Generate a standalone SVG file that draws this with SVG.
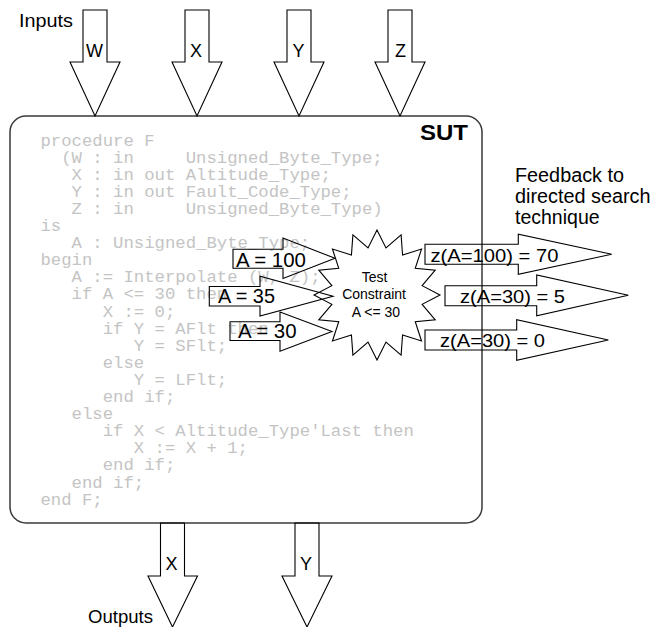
<svg xmlns="http://www.w3.org/2000/svg" width="653" height="627" viewBox="0 0 653 627">
  <style>
    .sans { font-family: "Liberation Sans", Arial, sans-serif; fill: #000; }
    .code { font-family: "Liberation Mono", "Courier New", monospace; font-size: 17.3px; fill: #c4c4c4; }
    .arrow { fill: none; stroke: #000; stroke-width: 1.1; stroke-linejoin: miter; }
    .box { fill: #fff; stroke: #3a3a3a; stroke-width: 1.5; }
  </style>
  <rect width="653" height="627" fill="#fff"/>

  <!-- System under test -->
  <g id="sut">
    <rect class="box" x="10" y="116" width="472" height="407" rx="16" ry="16"/>
    <text class="sans" x="420" y="140" font-size="22" font-weight="bold" textLength="48" lengthAdjust="spacingAndGlyphs">SUT</text>
    <text class="code" xml:space="preserve">
      <tspan x="40.5" y="145.5">procedure F</tspan>
      <tspan x="40.5" y="162.6">  (W : in     Unsigned_Byte_Type;</tspan>
      <tspan x="40.5" y="179.7">   X : in out Altitude_Type;</tspan>
      <tspan x="40.5" y="196.8">   Y : in out Fault_Code_Type;</tspan>
      <tspan x="40.5" y="213.9">   Z : in     Unsigned_Byte_Type)</tspan>
      <tspan x="40.5" y="231.0">is</tspan>
      <tspan x="40.5" y="248.1">   A : Unsigned_Byte_Type;</tspan>
      <tspan x="40.5" y="265.2">begin</tspan>
      <tspan x="40.5" y="282.3">   A := Interpolate (W, Z);</tspan>
      <tspan x="40.5" y="299.4">   if A &lt;= 30 then</tspan>
      <tspan x="40.5" y="316.5">      X := 0;</tspan>
      <tspan x="40.5" y="333.6">      if Y = AFlt then</tspan>
      <tspan x="40.5" y="350.7">         Y = SFlt;</tspan>
      <tspan x="40.5" y="367.8">      else</tspan>
      <tspan x="40.5" y="384.9">         Y = LFlt;</tspan>
      <tspan x="40.5" y="402.0">      end if;</tspan>
      <tspan x="40.5" y="419.1">   else</tspan>
      <tspan x="40.5" y="436.2">      if X &lt; Altitude_Type'Last then</tspan>
      <tspan x="40.5" y="453.3">         X := X + 1;</tspan>
      <tspan x="40.5" y="470.4">      end if;</tspan>
      <tspan x="40.5" y="487.5">   end if;</tspan>
      <tspan x="40.5" y="504.6">end F;</tspan>
    </text>
  </g>

  <text class="sans" x="19" y="27" font-size="18" textLength="54" lengthAdjust="spacingAndGlyphs">Inputs</text>
  <text class="sans" x="88" y="623" font-size="18" textLength="65" lengthAdjust="spacingAndGlyphs">Outputs</text>

  <g id="connectors">
    <!-- input block arrows -->
    <g id="in-w">
      <polygon class="arrow" points="83,10 107,10 107,62 120,62 95,116 70,62 83,62"/>
      <text class="sans" x="86" y="56.5" font-size="18">W</text>
    </g>
    <g id="in-x">
      <polygon class="arrow" points="185,10 209,10 209,62 222,62 197,116 172,62 185,62"/>
      <text class="sans" x="190" y="56.5" font-size="18">X</text>
    </g>
    <g id="in-y">
      <polygon class="arrow" points="287,10 311,10 311,62 324,62 299,116 274,62 287,62"/>
      <text class="sans" x="292.5" y="56.5" font-size="18">Y</text>
    </g>
    <g id="in-z">
      <polygon class="arrow" points="388,10 412,10 412,62 425,62 400,116 375,62 388,62"/>
      <text class="sans" x="395" y="56.5" font-size="18">Z</text>
    </g>

    <!-- output block arrows -->
    <g id="out-x">
      <polygon class="arrow" points="160.5,523 184.5,523 184.5,576 197.5,576 172.5,627 148,576 160.5,576"/>
      <text class="sans" x="165.5" y="570" font-size="18">X</text>
    </g>
    <g id="out-y">
      <polygon class="arrow" points="295,523 319,523 319,576 332,576 307,627 282,576 295,576"/>
      <text class="sans" x="300" y="570" font-size="18">Y</text>
    </g>

    <!-- candidate values fed into the constraint -->
    <g id="val-100">
      <polygon class="arrow" points="233,249.3 283,249.3 283,238 335,258.3 283,278.5 283,268.3 233,268.3"/>
      <text class="sans" x="236" y="266.5" font-size="20" textLength="70" lengthAdjust="spacingAndGlyphs">A = 100</text>
    </g>
    <g id="val-35">
      <polygon class="arrow" points="209.3,286.5 260,286.5 260,276.3 333,296.2 260,316 260,306 209.3,306"/>
      <text class="sans" x="218" y="302.7" font-size="20" textLength="57" lengthAdjust="spacingAndGlyphs">A = 35</text>
    </g>
    <g id="val-30">
      <polygon class="arrow" points="230,321.7 280,321.7 280,312 332,331.5 280,351.3 280,340.5 230,340.5"/>
      <text class="sans" x="238" y="338.3" font-size="20" textLength="58.5" lengthAdjust="spacingAndGlyphs">A = 30</text>
    </g>

    <!-- fitness values returned to the search -->
    <g id="fit-100">
      <polygon class="arrow" points="425,244.3 518.3,244.3 518.3,234.3 611.7,254.3 518.3,274.3 518.3,264.3 425,264.3"/>
      <text class="sans" x="430.5" y="261.5" font-size="19" textLength="128" lengthAdjust="spacingAndGlyphs">z(A=100) = 70</text>
    </g>
    <g id="fit-30a">
      <polygon class="arrow" points="445,285.7 536.7,285.7 536.7,275 628.3,295.3 536.7,315.7 536.7,305.7 445,305.7"/>
      <text class="sans" x="460" y="302.7" font-size="19" textLength="105" lengthAdjust="spacingAndGlyphs">z(A=30) = 5</text>
    </g>
    <g id="fit-30b">
      <polygon class="arrow" points="425,330 516.7,330 516.7,319.7 608.3,340 516.7,360.3 516.7,350 425,350"/>
      <text class="sans" x="440" y="347.3" font-size="19" textLength="105" lengthAdjust="spacingAndGlyphs">z(A=30) = 0</text>
    </g>
  </g>

  <!-- constraint starburst -->
  <g id="constraint">
    <polygon class="arrow" points="377,230 385.97,247.92 401.11,234.95 402.56,255.09 421.55,249.04 415.25,268.33 435.21,270.12 422.12,285.64 440,295 422.12,304.36 435.21,319.88 415.25,321.67 421.55,340.96 402.56,334.91 401.11,355.05 385.97,342.08 377,360 368.03,342.08 352.89,355.05 351.44,334.91 332.45,340.96 338.75,321.67 318.79,319.88 331.88,304.36 314,295 331.88,285.64 318.79,270.12 338.75,268.33 332.45,249.04 351.44,255.09 352.89,234.95 368.03,247.92"/>
    <text class="sans" font-size="14" text-anchor="middle">
      <tspan x="376.5" y="282.3">Test</tspan>
      <tspan x="376" y="299.3">Constraint</tspan>
      <tspan x="376" y="317.3">A &lt;= 30</tspan>
    </text>
  </g>

  <g id="feedback-note">
    <text class="sans" font-size="19.5">
      <tspan x="515" y="181.7" textLength="109" lengthAdjust="spacingAndGlyphs">Feedback to</tspan>
      <tspan x="515" y="203.2" textLength="135.5" lengthAdjust="spacingAndGlyphs">directed search</tspan>
      <tspan x="515" y="224.3">technique</tspan>
    </text>
  </g>
</svg>
